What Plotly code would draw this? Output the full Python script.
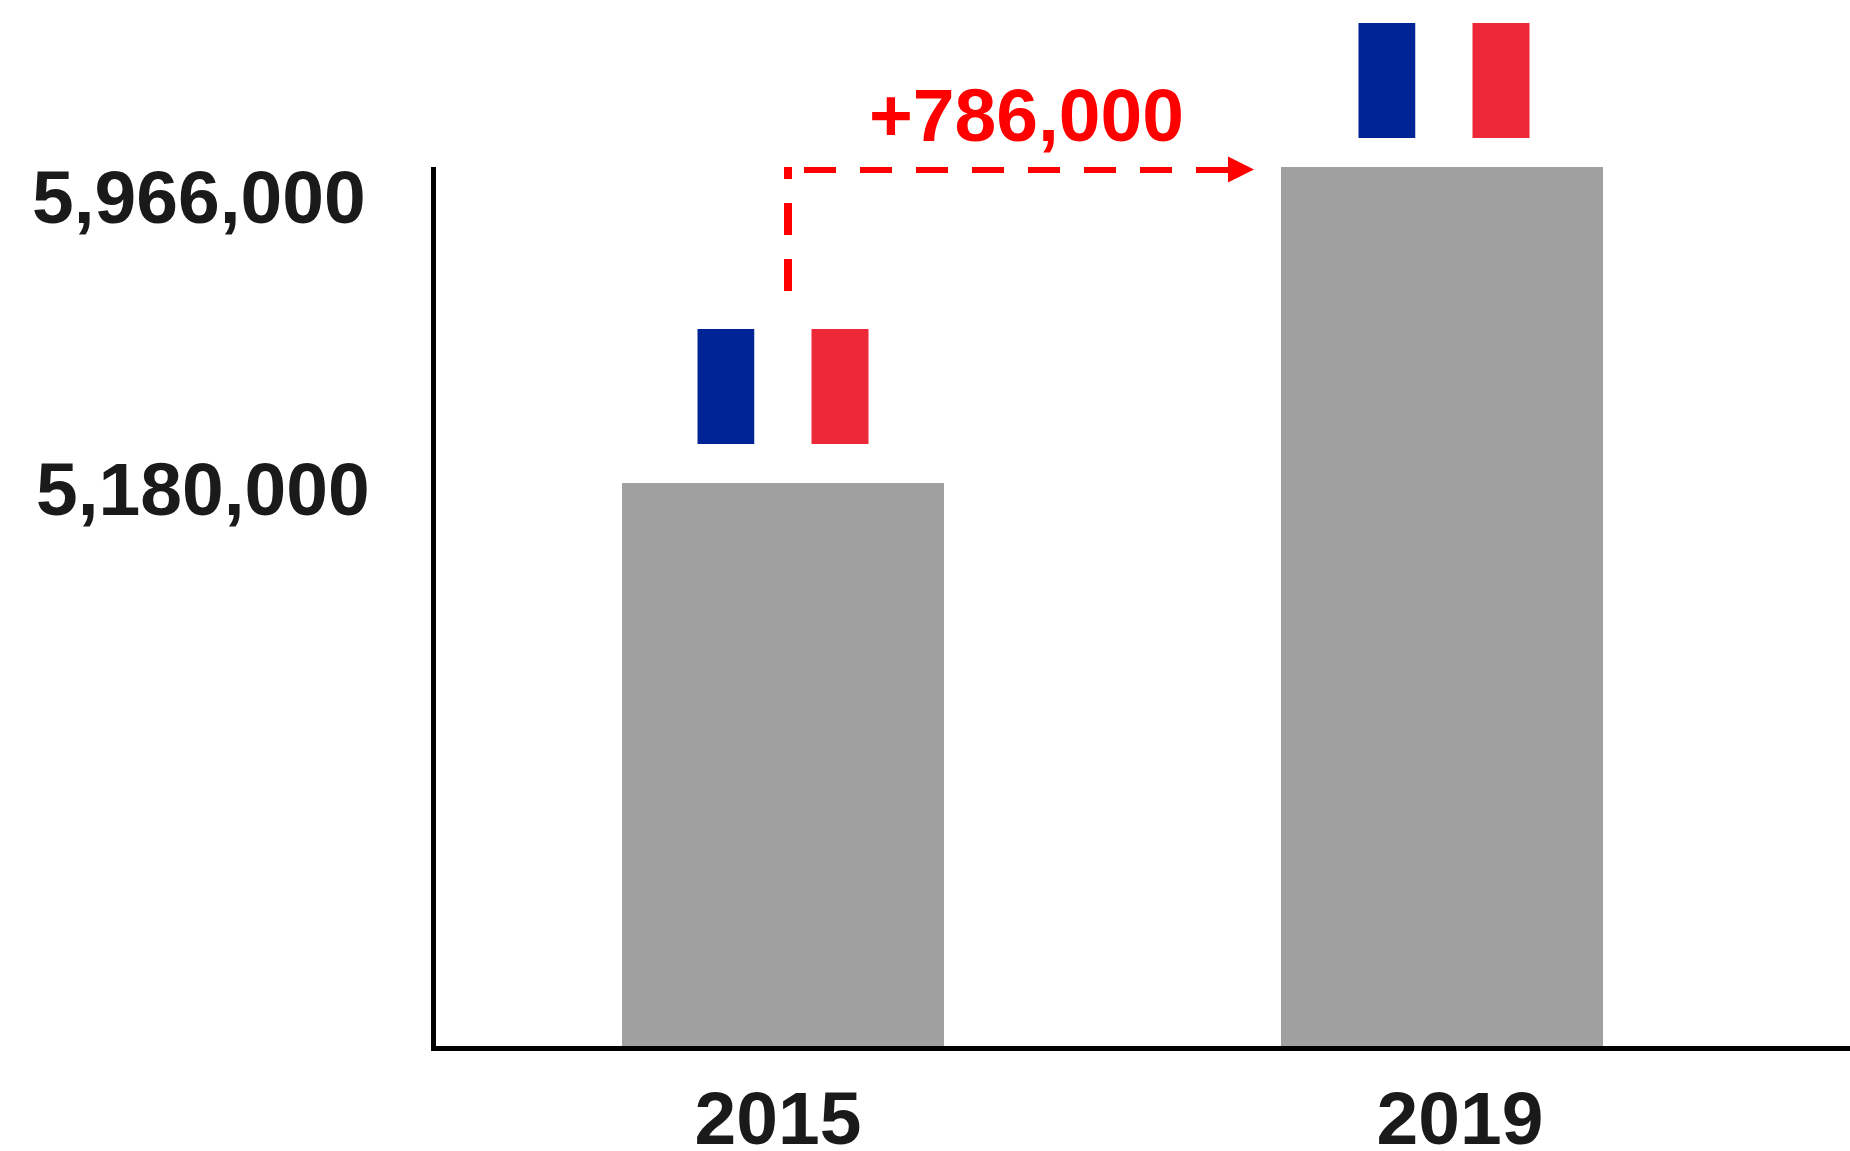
import plotly.graph_objects as go

# --- data ---
years = [2015, 2019]
values = [5180000, 5966000]
change_label = "+786,000"
flag_colors = ["#002395", "#FFFFFF", "#ED2939"]

W, H = 1850, 1151
L, T, B = 436.0, 167.0, 1046.0
DARK, GREY, RED = "#1a1a1a", "#a0a0a0", "#ff0000"
FONT = "Liberation Sans, Arial, Helvetica, sans-serif"
FS = 75

# horizontal scale: 659 px between the bars = 4 years; bar centre 783 px
px_per_year = 659 / 4
def X(p):
    return years[0] + (p - 783) / px_per_year
xr = [X(L), X(W)]

# vertical scale from the two bar tops (483 px and 167 px)
px_per_unit = (483 - 167) / (values[1] - values[0])
def Y(p):
    return values[0] - (p - 483) / px_per_unit
yr = [Y(B), Y(T)]
def P(p):  # paper coordinate of a pixel row
    return (B - p) / (B - T)
def PX(p):  # paper coordinate of a pixel column
    return (p - L) / (W - L)

bases = [Y(1046), Y(1048)]

fig = go.Figure()
fig.add_trace(go.Bar(
    x=years, y=[v - b for v, b in zip(values, bases)], base=bases,
    width=322 / px_per_year, marker=dict(color=GREY, line=dict(width=0)),
    cliponaxis=False, showlegend=False, hoverinfo="skip"))

# dashed connector
fig.add_trace(go.Scatter(
    x=[X(788), X(788)], y=[Y(291), Y(165)], mode="lines",
    line=dict(color=RED, width=8, dash="32px,24px"), cliponaxis=False,
    showlegend=False, hoverinfo="skip"))
fig.add_trace(go.Scatter(
    x=[X(804), X(1230)], y=[Y(169), Y(169)], mode="lines",
    line=dict(color=RED, width=8, dash="32px,24px"), cliponaxis=False,
    showlegend=False, hoverinfo="skip"))

ann = []
ann.append(dict(x=X(1254), y=Y(169.5), ax=X(1228), ay=Y(169.5), axref="x", ayref="y",
                xref="x", yref="y", text="", showarrow=True, arrowhead=2,
                arrowsize=5.2, arrowwidth=1, arrowcolor=RED, standoff=0))
ann.append(dict(x=X(1026), y=P(114.5), xref="x", yref="paper", text=f"<b>{change_label}</b>",
                showarrow=False, xanchor="center", yanchor="middle",
                font=dict(family=FONT, size=FS, color=RED)))
for v, right, cy in zip(values, [372, 368], [488.5, 196.5]):
    ann.append(dict(x=PX(right), y=Y(cy), xref="paper", yref="y", text=f"<b>{v:,}</b>",
                    showarrow=False, xanchor="right", yanchor="middle",
                    font=dict(family=FONT, size=FS, color=DARK)))

# flags sit on top of the bars
shapes = []
for yr_, centre_shift, top_px, bottom_px in zip(years, [0, 2], [329, 23], [444, 138]):
    left = yr_ + (centre_shift - 85.5) / px_per_year
    sw = 57 / px_per_year
    for i, c in enumerate(flag_colors):
        shapes.append(dict(type="rect", xref="x", yref="paper",
                           x0=left + i * sw, x1=left + (i + 1) * sw,
                           y0=P(bottom_px), y1=P(top_px),
                           fillcolor=c, line=dict(width=0), layer="above"))

fig.update_layout(
    width=W, height=H, margin=dict(l=L, r=0, t=T, b=H - B, pad=0),
    paper_bgcolor="white", plot_bgcolor="white",
    showlegend=False, annotations=ann, shapes=shapes, bargap=0,
    xaxis=dict(range=xr, tickmode="array", tickvals=[X(778), X(1460)],
               ticktext=[f"<b>{y}</b>" for y in years],
               tickfont=dict(family=FONT, size=FS, color=DARK),
               showgrid=False, zeroline=False, ticks="", showline=True,
               linecolor="black", linewidth=5, layer="below traces",
               ticklabelstandoff=3, automargin=False),
    yaxis=dict(range=yr, showticklabels=False, ticks="", showgrid=False,
               zeroline=False, showline=True, linecolor="black", linewidth=5,
               layer="below traces", automargin=False),
)
fig.write_html("out.html", config=dict(displayModeBar=False),
               post_script="document.body.style.margin='0';document.body.style.overflow='hidden';")
